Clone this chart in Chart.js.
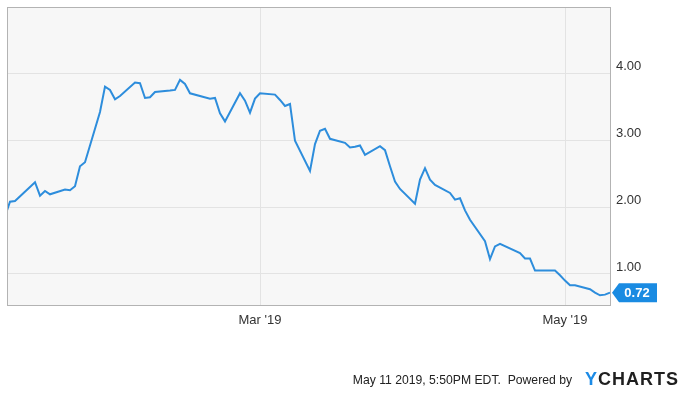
<!DOCTYPE html>
<html>
<head>
<meta charset="utf-8">
<script src="https://cdn.jsdelivr.net/npm/chart.js@4"></script>
<style>
  html, body { margin: 0; padding: 0; background: #fff; }
  #wrap { position: relative; width: 688px; height: 393px; }
</style>
</head>
<body>
<div id="wrap"><canvas id="grafico" width="688" height="393"></canvas></div>
<script>
// dates (2019, MM-DD) and closing values
const dates = ['01-09','01-10','01-11','01-14','01-15','01-16','01-17','01-18','01-21','01-22',
  '01-23','01-24','01-25','01-28','01-29','01-30','01-31','02-01','02-04','02-05',
  '02-06','02-07','02-08','02-11','02-12','02-13','02-14','02-15','02-19','02-20',
  '02-21','02-22','02-25','02-26','02-27','02-28','03-01','03-04','03-05','03-06',
  '03-07','03-08','03-11','03-12','03-13','03-14','03-15','03-18','03-19','03-20',
  '03-21','03-22','03-25','03-26','03-27','03-28','03-29','04-01','04-02','04-03',
  '04-04','04-05','04-08','04-09','04-10','04-11','04-12','04-15','04-16','04-17',
  '04-18','04-22','04-23','04-24','04-25','04-26','04-29','04-30','05-01','05-02',
  '05-03','05-06','05-07','05-08','05-09','05-10'];
const valori = [1.86, 2.08, 2.09, 2.30, 2.37, 2.17, 2.24, 2.19, 2.26, 2.25,
  2.31, 2.61, 2.67, 3.42, 3.80, 3.75, 3.61, 3.66, 3.86, 3.85,
  3.63, 3.64, 3.72, 3.74, 3.75, 3.90, 3.84, 3.70, 3.62, 3.63,
  3.40, 3.28, 3.70, 3.59, 3.41, 3.62, 3.70, 3.68, 3.60, 3.51,
  3.54, 2.99, 2.54, 2.94, 3.14, 3.17, 3.02, 2.96, 2.89, 2.90,
  2.92, 2.78, 2.91, 2.85, 2.61, 2.38, 2.27, 2.05, 2.41, 2.58,
  2.41, 2.33, 2.21, 2.11, 2.13, 1.95, 1.81, 1.49, 1.22, 1.41,
  1.45, 1.31, 1.23, 1.23, 1.05, 1.05, 1.05, 0.98, 0.90, 0.83,
  0.83, 0.77, 0.72, 0.68, 0.69, 0.72];
const xTickDates = ['03-01', '05-01'];
const xTickLabels = ["Mar '19", "May '19"];
const yTicks = [1, 2, 3, 4];
const footerText = 'May 11 2019, 5:50PM EDT.  Powered by';

const LINE_COLOR = '#2d8ddc';
const FLAG_COLOR = '#1a8be2';

function giorno(md) {
    const [m, d] = md.split('-').map(Number);
    return (Date.UTC(2019, m - 1, d) - Date.UTC(2019, 0, 1)) / 864e5;
}

const punti = dates.map((d, i) => ({ x: giorno(d), y: valori[i] }));
const xTickValues = xTickDates.map(giorno);

const sfondo = {
    id: 'sfondo',
    beforeDraw(chart) {
        const { ctx, chartArea: a } = chart;
        ctx.save();
        ctx.fillStyle = '#f7f7f7';
        ctx.fillRect(a.left, a.top, a.right - a.left, a.bottom - a.top);
        ctx.restore();
    },
    afterDraw(chart) {
        const { ctx, chartArea: a } = chart;
        ctx.save();
        ctx.strokeStyle = '#b3b3b3';
        ctx.lineWidth = 1;
        ctx.strokeRect(a.left + 0.5, a.top + 0.5, a.right - a.left - 1, a.bottom - a.top);
        ctx.restore();
    }
};

const bandierina = {
    id: 'bandierina',
    afterDraw(chart) {
        const { ctx, chartArea: a } = chart;
        const last = valori[valori.length - 1];
        const y = chart.scales.y.getPixelForValue(last);
        const x = a.right + 1;
        ctx.save();
        ctx.fillStyle = FLAG_COLOR;
        ctx.beginPath();
        ctx.moveTo(x, y);
        ctx.lineTo(x + 7, y - 9.5);
        ctx.lineTo(x + 45, y - 9.5);
        ctx.lineTo(x + 45, y + 9.5);
        ctx.lineTo(x + 7, y + 9.5);
        ctx.closePath();
        ctx.fill();
        ctx.fillStyle = '#fff';
        ctx.font = 'bold 13px "Liberation Sans", Arial, sans-serif';
        ctx.textAlign = 'center';
        ctx.textBaseline = 'middle';
        ctx.fillText(last.toFixed(2), x + 25, y + 0.5);

        // footer
        ctx.fillStyle = '#222';
        ctx.font = '12.2px "Liberation Sans", Arial, sans-serif';
        ctx.textAlign = 'right';
        ctx.textBaseline = 'alphabetic';
        ctx.fillText(footerText, 572, 384);
        ctx.textAlign = 'left';
        ctx.font = 'bold 18px "Liberation Sans", Arial, sans-serif';
        ctx.letterSpacing = '1px';
        ctx.fillStyle = '#1c8be6';
        ctx.fillText('Y', 585, 384.5);
        const wy = ctx.measureText('Y').width;
        ctx.fillStyle = '#1f1f1f';
        ctx.fillText('CHARTS', 585 + wy, 384.5);
        ctx.restore();
    }
};

new Chart(document.getElementById('grafico'), {
    type: 'line',
    data: {
        datasets: [{
            data: punti,
            borderColor: LINE_COLOR,
            borderWidth: 2,
            pointRadius: 0,
            tension: 0,
            fill: false
        }]
    },
    options: {
        responsive: false,
        animation: false,
        layout: { padding: { left: 7, top: 7, right: 0, bottom: 0 } },
        plugins: { legend: { display: false }, tooltip: { enabled: false } },
        scales: {
            x: {
                type: 'linear',
                min: 8.4,
                max: 129.2,
                afterBuildTicks: axis => { axis.ticks = xTickValues.map(v => ({ value: v })); },
                afterFit: axis => {
                    axis.height = 88;
                    axis.paddingLeft = 0;
                    axis.paddingRight = 0;
                },
                grid: { color: '#e3e3e3', drawTicks: false },
                border: { display: false },
                ticks: {
                    padding: 8,
                    maxRotation: 0,
                    color: '#333',
                    font: { family: '"Liberation Sans", Arial, sans-serif', size: 13 },
                    callback: (v, i) => xTickLabels[i]
                }
            },
            y: {
                position: 'right',
                min: 0.535,
                max: 4.99,
                afterBuildTicks: axis => { axis.ticks = yTicks.map(v => ({ value: v })); },
                afterFit: axis => {
                    axis.width = 77;
                    axis.paddingTop = 0;
                    axis.paddingBottom = 0;
                },
                grid: { color: '#e3e3e3', drawTicks: false },
                border: { display: false },
                ticks: {
                    padding: 5,
                    labelOffset: -6.5,
                    color: '#333',
                    font: { family: '"Liberation Sans", Arial, sans-serif', size: 13 },
                    callback: v => v.toFixed(2)
                }
            }
        }
    },
    plugins: [sfondo, bandierina]
});
</script>
</body>
</html>
